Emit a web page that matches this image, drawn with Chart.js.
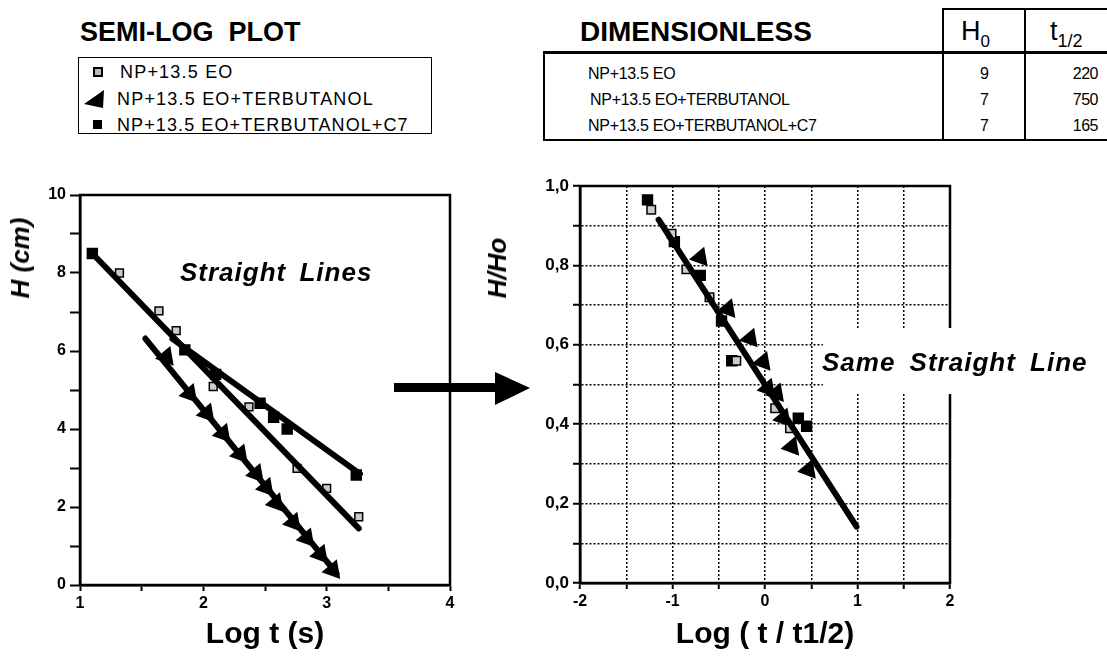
<!DOCTYPE html>
<html>
<head>
<meta charset="utf-8">
<script src="https://cdn.jsdelivr.net/npm/chart.js@4.4.0/dist/chart.umd.min.js"></script>
<style>
  body { margin: 0; background: #fff; width: 1107px; height: 659px; position: relative; overflow: hidden;
         font-family: "Liberation Sans", Arial, sans-serif; color: #000; }
  .t { position: absolute; white-space: pre; transform: translateY(-50%); line-height: 1; }
  .ln { position: absolute; background: #000; }
  canvas { position: absolute; }
</style>
</head>
<body>

<!-- semi-log header + legend -->
<div class="t" style="left:80px;top:32px;font-size:27px;font-weight:bold;">SEMI-LOG  PLOT</div>
<div style="position:absolute;left:78px;top:57px;width:352px;height:75px;border:1.5px solid #000;"></div>
<div style="position:absolute;left:93px;top:67px;width:6px;height:6px;border:2px solid #000;background:#bbb;"></div>
<svg style="position:absolute;left:83px;top:88px" width="24" height="22"><polygon points="1,16 21,2 20,20" fill="#000"/></svg>
<div style="position:absolute;left:93px;top:120px;width:9px;height:9px;background:#000;"></div>
<div class="t" style="left:120px;top:72px;font-size:18px;letter-spacing:1.2px;">NP+13.5 EO</div>
<div class="t" style="left:117px;top:99px;font-size:18px;letter-spacing:1.2px;">NP+13.5 EO+TERBUTANOL</div>
<div class="t" style="left:117px;top:125px;font-size:18px;letter-spacing:1.1px;">NP+13.5 EO+TERBUTANOL+C7</div>

<!-- dimensionless table -->
<div class="t" style="left:580px;top:32px;font-size:28px;font-weight:bold;">DIMENSIONLESS</div>
<div class="t" style="left:961px;top:34px;font-size:27px;">H<sub style="font-size:17px;">0</sub></div>
<div class="t" style="left:1050px;top:34px;font-size:27px;">t<sub style="font-size:18px;">1/2</sub></div>
<div class="ln" style="left:943px;top:8px;width:164px;height:2px;"></div>
<div class="ln" style="left:942px;top:8px;width:2px;height:133px;"></div>
<div class="ln" style="left:1024px;top:8px;width:2px;height:133px;"></div>
<div class="ln" style="left:543px;top:51px;width:564px;height:3px;"></div>
<div class="ln" style="left:543px;top:139px;width:564px;height:2px;"></div>
<div class="ln" style="left:543px;top:51px;width:2px;height:90px;"></div>
<div class="t" style="left:588px;top:74px;font-size:16px;letter-spacing:-0.3px;">NP+13.5 EO</div>
<div class="t" style="left:590px;top:100px;font-size:16px;letter-spacing:-0.3px;">NP+13.5 EO+TERBUTANOL</div>
<div class="t" style="left:588px;top:126px;font-size:16px;letter-spacing:-0.3px;">NP+13.5 EO+TERBUTANOL+C7</div>
<div id="tbl"></div>

<!-- arrow between the plots -->
<svg style="position:absolute;left:390px;top:368px" width="145" height="40">
  <rect x="4" y="15" width="108" height="9" fill="#000"/>
  <polygon points="105,4 140,20 105,37" fill="#000"/>
</svg>

<canvas id="semiLog" width="480" height="479" style="left:0px;top:180px;"></canvas>
<canvas id="dimless" width="617" height="489" style="left:490px;top:170px;"></canvas>

<div class="t" style="left:180px;top:272px;font-size:26px;font-weight:bold;font-style:italic;letter-spacing:1px;word-spacing:5px;">Straight Lines</div>
<div style="position:absolute;left:823px;top:328px;width:284px;height:66px;background:#fff;"></div>
<div class="t" style="left:822px;top:362px;font-size:26px;font-weight:bold;font-style:italic;letter-spacing:1px;word-spacing:6px;">Same Straight Line</div>

<div class="t" style="left:20px;top:258px;font-size:26px;font-weight:bold;font-style:italic;transform:translate(-50%,-50%) rotate(-90deg);">H (cm)</div>
<div class="t" style="left:497px;top:268px;font-size:26px;font-weight:bold;font-style:italic;transform:translate(-50%,-50%) rotate(-90deg);">H/Ho</div>

<script>
// table values
const tableH0 = [9, 7, 7];
const tableT12 = [220, 750, 165];
const tableRowsY = [74, 100, 126];

// semi-log plot: H (cm) vs log t
const eoLogT = [1.32, 1.64, 1.78, 2.08, 2.37, 2.76, 3.00, 3.26];
const eoH = [8.0, 7.03, 6.52, 5.09, 4.57, 2.99, 2.48, 1.75];
const terbLogT = [1.70, 1.89, 2.03, 2.16, 2.30, 2.43, 2.51, 2.59, 2.73, 2.84, 2.95, 3.05];
const terbH = [5.85, 4.90, 4.40, 3.88, 3.35, 2.85, 2.50, 2.10, 1.60, 1.20, 0.78, 0.38];
const c7LogT = [1.10, 1.85, 2.10, 2.46, 2.57, 2.68, 3.24];
const c7H = [8.5, 6.03, 5.40, 4.66, 4.30, 4.00, 2.82];
// fitted straight lines (end points)
const fitEoX = [1.10, 3.26], fitEoY = [8.5, 1.45];
const fitC7X = [1.75, 3.27], fitC7Y = [6.31, 2.85];
const fitTerbX = [1.53, 3.08], fitTerbY = [6.32, 0.30];

// dimensionless plot: H/Ho vs log(t/t1/2)
const dEoX = [-1.23, -1.01, -0.85, -0.60, -0.31, 0.11, 0.27];
const dEoY = [0.94, 0.88, 0.79, 0.72, 0.56, 0.44, 0.39];
const dC7X = [-1.27, -0.98, -0.70, -0.47, -0.36, 0.36, 0.45];
const dC7Y = [0.965, 0.86, 0.775, 0.66, 0.56, 0.415, 0.395];
const dTerbX = [-0.70, -0.40, -0.16, -0.02, 0.03, 0.125, 0.20, 0.29, 0.47];
const dTerbY = [0.82, 0.69, 0.616, 0.557, 0.49, 0.478, 0.415, 0.343, 0.285];
const dFitX = [-1.15, 0.99], dFitY = [0.915, 0.142];

let tblHtml = '';
tableRowsY.forEach((y, i) => {
    tblHtml += `<div class="t" style="left:980px;top:${y}px;font-size:16px;">${tableH0[i]}</div>`;
    tblHtml += `<div class="t" style="right:9px;top:${y}px;font-size:16px;letter-spacing:-0.5px;">${tableT12[i]}</div>`;
});
document.getElementById('tbl').innerHTML = tblHtml;

const pts = (xs, ys) => xs.map((x, i) => ({ x: x, y: ys[i] }));
const font = (size, extra) => Object.assign({ family: '"Liberation Sans", Arial, sans-serif', size: size, weight: 'bold' }, extra || {});

//box round the plot area
const frame = {
    id: 'frame',
    beforeDatasetsDraw(chart) {
        const a = chart.chartArea, ctx = chart.ctx;
        ctx.save();
        ctx.strokeStyle = '#000';
        ctx.lineWidth = 2.5;
        ctx.strokeRect(a.left, a.top, a.right - a.left, a.bottom - a.top);
        ctx.restore();
    }
};

function fitLine(xs, ys, w) {
    return { data: pts(xs, ys), showLine: true, borderColor: '#000', borderWidth: w, pointRadius: 0, borderCapStyle: 'round' };
}
function markers(xs, ys, style, r, fill, rot) {
    return { data: pts(xs, ys), showLine: false, pointStyle: style, pointRadius: r, pointBackgroundColor: fill,
             pointBorderColor: '#000', pointBorderWidth: 1.5, pointRotation: rot || 0 };
}

new Chart(document.getElementById('semiLog'), {
    type: 'scatter',
    data: {
        datasets: [
            fitLine(fitEoX, fitEoY, 6),
            fitLine(fitC7X, fitC7Y, 6),
            fitLine(fitTerbX, fitTerbY, 6),
            markers(eoLogT, eoH, 'rect', 5.5, '#ccc'),
            markers(terbLogT, terbH, 'triangle', 10, '#000', 140),
            markers(c7LogT, c7H, 'rect', 7, '#000')
        ]
    },
    options: {
        responsive: false, animation: false,
        layout: { padding: { top: 15, right: 30, left: 0, bottom: 0 } },
        plugins: { legend: { display: false }, tooltip: { enabled: false } },
        scales: {
            x: {
                type: 'linear', min: 1, max: 4,
                afterFit: s => { s.height = 74; },
                ticks: { stepSize: 0.5, color: '#000', font: font(16), padding: 3, maxRotation: 0,
                         callback: v => Number.isInteger(v) ? v : '' },
                grid: { drawOnChartArea: false, tickLength: 6, tickColor: '#000', tickWidth: 2 },
                border: { color: '#000', width: 2.5 },
                title: { display: true, text: 'Log t (s)', color: '#000', font: font(30), padding: { top: 0, bottom: 6 } }
            },
            y: {
                min: 0, max: 10,
                afterFit: s => { s.width = 80; },
                ticks: { stepSize: 1, color: '#000', font: font(16), padding: 4,
                         callback: v => v % 2 === 0 ? v : '' },
                grid: { drawOnChartArea: false, tickLength: 10, tickColor: '#000', tickWidth: 2 },
                border: { color: '#000', width: 2.5 }
            }
        }
    },
    plugins: [frame]
});

new Chart(document.getElementById('dimless'), {
    type: 'scatter',
    data: {
        datasets: [
            fitLine(dFitX, dFitY, 6),
            markers(dEoX, dEoY, 'rect', 6, '#ccc'),
            markers(dC7X, dC7Y, 'rect', 7, '#000'),
            markers(dTerbX, dTerbY, 'triangle', 10, '#000', 20)
        ]
    },
    options: {
        responsive: false, animation: false,
        layout: { padding: { top: 16, right: 157, left: 0, bottom: 0 } },
        plugins: { legend: { display: false }, tooltip: { enabled: false } },
        scales: {
            x: {
                type: 'linear', min: -2, max: 2,
                afterFit: s => { s.height = 76; },
                ticks: { stepSize: 0.5, color: '#000', font: font(16), padding: 3, maxRotation: 0,
                         callback: v => Number.isInteger(v) ? v : '' },
                grid: { color: '#000', lineWidth: 1.5, tickLength: 6, tickColor: '#000', tickWidth: 2, tickBorderDash: [] },
                border: { color: '#000', width: 2.5, dash: [2, 2] },
                title: { display: true, text: 'Log ( t / t1/2)', color: '#000', font: font(30), padding: { top: 0, bottom: 6 } }
            },
            y: {
                min: 0, max: 1,
                afterFit: s => { s.width = 90; },
                ticks: { stepSize: 0.1, color: '#000', font: font(17), padding: 4,
                         callback: v => Math.round(v * 10) % 2 === 0 ? v.toFixed(1).replace('.', ',') : '' },
                grid: { color: '#000', lineWidth: 1.5, tickLength: 7, tickColor: '#000', tickWidth: 2, tickBorderDash: [] },
                border: { color: '#000', width: 2.5, dash: [2, 2] }
            }
        }
    },
    plugins: [frame]
});
</script>
</body>
</html>
